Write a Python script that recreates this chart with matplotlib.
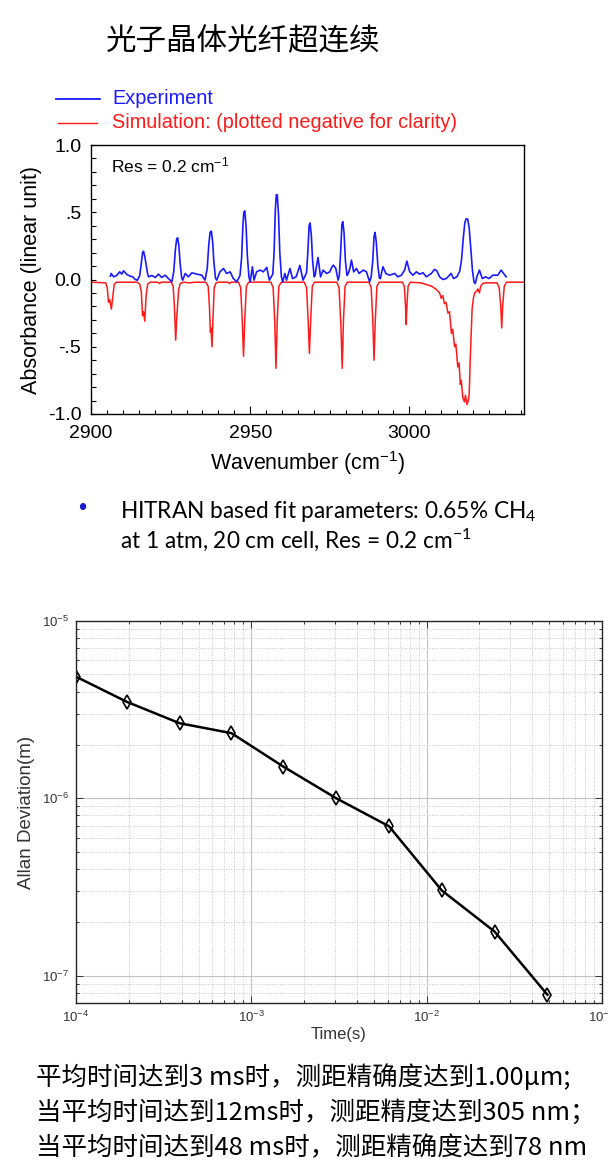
"""Methane absorption spectrum (PCF supercontinuum) and Allan deviation of ranging."""
import numpy as np
import matplotlib
matplotlib.use("Agg")
import matplotlib.pyplot as plt
from matplotlib.lines import Line2D
from matplotlib.ticker import MultipleLocator, LogLocator, NullFormatter

W, H = 609, 1172

exp_wn = [2906.1, 2906.3, 2907.1, 2908.1, 2909.0, 2909.7, 2910.2, 2911.3, 2912.3, 2913.1,
          2913.9, 2914.6, 2915.3, 2915.8, 2916.2, 2916.5, 2916.9, 2917.3, 2917.8, 2918.1,
          2919.1, 2920.2, 2921.2, 2922.2, 2923.3, 2924.3, 2925.4, 2926.0, 2926.5, 2926.9,
          2927.2, 2927.6, 2928.0, 2928.5, 2928.8, 2929.6, 2930.6, 2931.7, 2933.2, 2934.8,
          2935.8, 2936.5, 2937.0, 2937.4, 2937.8, 2938.2, 2938.6, 2939.1, 2939.5, 2940.5,
          2941.6, 2942.6, 2943.7, 2944.7, 2945.8, 2946.8, 2947.3, 2947.7, 2948.0, 2948.3,
          2948.7, 2949.1, 2949.6, 2950.0, 2950.7, 2951.2, 2952.0, 2953.1, 2954.1, 2955.2,
          2956.0, 2957.1, 2957.5, 2957.9, 2958.2, 2958.5, 2958.9, 2959.3, 2959.8, 2960.2,
          2960.9, 2961.4, 2962.5, 2963.3, 2964.4, 2965.0, 2965.6, 2966.1, 2966.6, 2967.3,
          2967.7, 2968.1, 2968.5, 2968.8, 2969.2, 2969.6, 2970.1, 2970.4, 2970.8, 2971.3,
          2971.7, 2972.1, 2972.9, 2974.0, 2975.0, 2975.6, 2976.1, 2976.9, 2977.6, 2978.0,
          2978.4, 2978.8, 2979.1, 2979.5, 2979.9, 2980.4, 2980.8, 2981.3, 2981.8, 2982.5,
          2983.4, 2984.2, 2985.5, 2986.5, 2987.5, 2988.0, 2988.5, 2988.9, 2989.2, 2989.6,
          2990.1, 2990.6, 2990.9, 2991.7, 2992.6, 2993.8, 2995.4, 2996.4, 2997.5, 2998.5,
          2999.2, 3000.1, 3001.1, 3002.2, 3003.2, 3004.3, 3005.3, 3006.9, 3007.9, 3008.6,
          3009.5, 3010.5, 3011.6, 3013.1, 3013.9, 3014.9, 3015.8, 3016.4, 3016.9, 3017.4,
          3017.8, 3018.3, 3018.8, 3019.3, 3019.8, 3020.3, 3020.7, 3021.2, 3022.0, 3022.9,
          3023.9, 3025.0, 3026.2, 3027.8, 3028.8, 3029.6, 3030.4]
exp_abs = [0.025, 0.045, 0.020, 0.030, 0.057, 0.040, 0.065, 0.037, 0.025, 0.020,
           0.000, -0.005, 0.030, 0.120, 0.200, 0.210, 0.170, 0.110, 0.040, 0.020,
           0.030, 0.015, 0.040, 0.015, 0.032, 0.007, -0.017, 0.060, 0.220, 0.300,
           0.310, 0.250, 0.120, 0.010, -0.005, 0.045, 0.020, 0.050, 0.040, 0.032,
           -0.005, 0.080, 0.260, 0.350, 0.360, 0.280, 0.130, 0.010, -0.005, 0.057,
           0.082, 0.045, 0.057, 0.007, -0.017, 0.030, 0.160, 0.400, 0.500, 0.510,
           0.400, 0.180, 0.020, -0.017, 0.095, -0.005, 0.057, 0.070, 0.057, 0.090,
           -0.005, 0.040, 0.200, 0.520, 0.630, 0.630, 0.480, 0.200, 0.020, -0.017,
           0.045, -0.005, 0.082, 0.007, 0.020, 0.060, 0.105, 0.050, -0.005, 0.030,
           0.050, 0.200, 0.400, 0.420, 0.330, 0.140, 0.020, 0.030, 0.095, 0.164,
           0.090, 0.020, 0.070, 0.045, 0.057, 0.090, 0.107, 0.082, -0.005, 0.030,
           0.200, 0.410, 0.430, 0.340, 0.140, 0.030, 0.045, 0.082, 0.144, 0.057,
           0.082, 0.045, 0.070, 0.057, -0.017, 0.020, 0.140, 0.320, 0.350, 0.280,
           0.100, 0.010, 0.007, 0.095, 0.045, 0.032, 0.045, 0.020, 0.032, 0.070,
           0.137, 0.057, 0.032, 0.057, 0.040, 0.050, 0.020, 0.045, 0.075, 0.065,
           0.020, 0.000, 0.007, 0.045, 0.007, 0.020, 0.060, 0.150, 0.300, 0.420,
           0.450, 0.450, 0.380, 0.220, 0.070, -0.020, -0.030, 0.020, 0.070, 0.007,
           0.020, 0.007, 0.032, 0.032, 0.070, 0.045, 0.020]

# simulated spectrum, plotted negative
sim_wn = [2900.0, 2904.6, 2905.1, 2905.5, 2905.9, 2906.4, 2906.9, 2907.3, 2908.0,
          2914.5, 2915.3, 2915.8, 2916.2, 2916.5, 2916.9, 2917.3, 2917.8, 2918.5,
          2921.0, 2921.5, 2922.0,
          2925.2, 2925.8, 2926.2, 2926.6, 2926.9, 2927.2, 2927.5, 2928.0, 2929.0,
          2931.0, 2932.5,
          2936.0, 2936.8, 2937.2, 2937.5, 2937.7, 2938.0, 2938.3, 2938.7, 2939.3, 2940.0,
          2943.0, 2943.5, 2944.0,
          2946.3, 2947.0, 2947.5, 2947.9, 2948.3, 2948.8, 2949.5,
          2956.5, 2957.2, 2957.7, 2958.1, 2958.5, 2959.0, 2959.8,
          2967.0, 2967.7, 2968.2, 2968.6, 2969.0, 2969.5, 2970.2,
          2977.2, 2977.9, 2978.5, 2978.9, 2979.3, 2979.8, 2980.5,
          2987.3, 2988.0, 2988.5, 2988.9, 2989.3, 2989.8, 2990.5,
          2997.8, 2998.4, 2998.8, 2999.0, 2999.2, 2999.6, 3000.3,
          3003.5, 3005.3, 3007.0, 3008.5, 3009.5, 3010.0, 3010.5, 3011.0, 3011.5,
          3012.1, 3012.6, 3013.2, 3013.6, 3014.2, 3014.6, 3015.2, 3015.6, 3016.0,
          3016.3, 3016.8, 3017.3, 3017.6, 3018.1, 3018.5, 3018.8, 3019.1, 3019.4,
          3019.7, 3020.1, 3020.5, 3021.0, 3021.5, 3022.0, 3022.4, 3023.0, 3024.0,
          3027.5, 3028.2, 3028.7, 3029.0, 3029.3, 3029.8, 3030.5, 3036.0]
sim_abs = [-0.02, -0.025, -0.06, -0.17, -0.15, -0.22, -0.12, -0.035, -0.02,
           -0.02, -0.035, -0.09, -0.27, -0.24, -0.31, -0.12, -0.035, -0.02,
           -0.02, -0.03, -0.02,
           -0.02, -0.05, -0.20, -0.45, -0.30, -0.19, -0.08, -0.03, -0.02,
           -0.025, -0.02,
           -0.02, -0.05, -0.20, -0.39, -0.36, -0.50, -0.30, -0.06, -0.025, -0.02,
           -0.02, -0.03, -0.02,
           -0.02, -0.06, -0.30, -0.57, -0.30, -0.05, -0.02,
           -0.02, -0.06, -0.30, -0.66, -0.30, -0.05, -0.02,
           -0.02, -0.06, -0.30, -0.55, -0.30, -0.05, -0.02,
           -0.02, -0.06, -0.35, -0.66, -0.30, -0.05, -0.02,
           -0.02, -0.06, -0.30, -0.60, -0.30, -0.05, -0.02,
           -0.02, -0.05, -0.20, -0.335, -0.20, -0.05, -0.02,
           -0.025, -0.037, -0.05, -0.075, -0.10, -0.14, -0.12, -0.18, -0.17,
           -0.25, -0.24, -0.40, -0.37, -0.50, -0.48, -0.65, -0.62, -0.78,
           -0.75, -0.88, -0.91, -0.86, -0.93, -0.90, -0.85, -0.60, -0.40,
           -0.22, -0.14, -0.10, -0.09, -0.07, -0.10, -0.05, -0.03, -0.025,
           -0.025, -0.06, -0.20, -0.36, -0.20, -0.05, -0.02, -0.02]

abs_ticks = [-1.0, -0.5, 0.0, 0.5, 1.0]
abs_tick_labels = ["-1.0", "-.5", "0.0", ".5", "1.0"]
wn_ticks = [2900, 2950, 3000]

# --- bottom panel: Allan deviation ---
tau_s = [1.0e-4, 1.95e-4, 3.9e-4, 7.7e-4, 1.52e-3, 3.05e-3, 6.1e-3, 1.22e-2, 2.44e-2, 4.88e-2]
allan_m = [4.85e-6, 3.5e-6, 2.65e-6, 2.33e-6, 1.51e-6, 1.0e-6, 6.95e-7, 3.02e-7, 1.77e-7, 7.8e-8]

title = "光子晶体光纤超连续"
legend_labels = ["Experiment", "Simulation: (plotted negative for clarity)"]
bullet_lines = ["HITRAN based fit parameters: 0.65% CH$_4$",
                "at 1 atm, 20 cm cell, Res = 0.2 cm$^{-1}$"]
note_lines = ["平均时间达到3 ms时，测距精确度达到1.00μm;",
              "当平均时间达到12ms时，测距精度达到305 nm；",
              "当平均时间达到48 ms时，测距精确度达到78 nm"]

SANS = ["Liberation Sans", "DejaVu Sans"]
CJK = ["Noto Sans CJK SC", "DejaVu Sans"]


def fx(px):
    return px / W


def fy(py):
    return 1 - py / H


def main():
    plt.rcParams["mathtext.default"] = "regular"
    fig = plt.figure(figsize=(W / 100, H / 100), dpi=100)

    fig.text(fx(243), fy(42), title, family=CJK, fontsize=22, ha="center", va="center")

    # legend drawn by hand above the axes
    fig.add_artist(Line2D([fx(56), fx(100)], [fy(99), fy(99)], color="#1a1aff", lw=1.3))
    fig.add_artist(Line2D([fx(58), fx(97)], [fy(123), fy(123)], color="#ff1a1a", lw=1.0))
    fig.text(fx(112), fy(99), legend_labels[0], family=SANS, fontsize=14.3,
             color="#1a1aff", va="center")
    fig.text(fx(112), fy(123), legend_labels[1], family=SANS, fontsize=14.3,
             color="#ff1a1a", va="center")

    ax1 = fig.add_axes([fx(91), fy(414), (524 - 91) / W, (414 - 145) / H])
    ax1.plot(sim_wn, sim_abs, color="#ff1a1a", lw=1.1)
    ax1.plot(exp_wn, exp_abs, color="#1a1aff", lw=1.2)
    ax1.set_xlim(2900, 3036)
    ax1.set_ylim(-1, 1)
    ax1.set_yticks(abs_ticks)
    ax1.set_yticklabels(abs_tick_labels)
    ax1.yaxis.set_minor_locator(MultipleLocator(0.1))
    ax1.set_xticks(wn_ticks)
    ax1.xaxis.set_minor_locator(MultipleLocator(5))
    ax1.tick_params(which="both", direction="in", top=False, right=False)
    ax1.tick_params(axis="y", which="both", length=3.5, width=0.8, pad=7)
    ax1.tick_params(axis="x", which="major", length=6, width=0.8, pad=8)
    ax1.tick_params(axis="x", which="minor", length=3, width=0.8)
    for lab in ax1.get_xticklabels() + ax1.get_yticklabels():
        lab.set_family(SANS)
        lab.set_fontsize(14)
    for sp in ax1.spines.values():
        sp.set_linewidth(1.0)
    ax1.set_xlabel("Wavenumber (cm$^{-1}$)", family=SANS, fontsize=15.5, labelpad=5)
    ax1.set_ylabel("Absorbance (linear unit)", family=SANS, fontsize=15.5, labelpad=4)
    ax1.text(0.047, 0.925, "Res = 0.2 cm$^{-1}$", transform=ax1.transAxes,
             family=SANS, fontsize=12.5, va="center")

    # bullet note
    fig.text(fx(82), fy(509), "•", family=SANS, fontsize=17, color="#1a1ad0",
             ha="center", va="center")
    fig.text(fx(120), fy(518), bullet_lines[0], family=["Lato", "DejaVu Sans"],
             fontsize=16.3, va="baseline")
    fig.text(fx(120), fy(548), bullet_lines[1], family=["Lato", "DejaVu Sans"],
             fontsize=16.3, va="baseline")

    # Allan deviation panel
    ax2 = fig.add_axes([fx(76), fy(1003), (602 - 76) / W, (1003 - 621) / H])
    ax2.loglog(tau_s, allan_m, color="black", lw=1.8, marker="d", ms=7,
               mfc="none", mec="black", mew=1.2)
    ax2.set_xlim(1e-4, 1e-1)
    ax2.set_ylim(7e-8, 1e-5)
    ax2.xaxis.set_minor_locator(LogLocator(base=10, subs=np.arange(2, 10), numticks=20))
    ax2.yaxis.set_minor_locator(LogLocator(base=10, subs=np.arange(2, 10), numticks=20))
    ax2.xaxis.set_minor_formatter(NullFormatter())
    ax2.yaxis.set_minor_formatter(NullFormatter())
    ax2.grid(True, which="major", color="#c4c4c4", lw=0.8, ls="-")
    ax2.grid(True, which="minor", color="#c4c4c4", lw=0.7, ls=":")
    ax2.tick_params(which="both", direction="in", top=True, right=True,
                    colors="#333333", width=0.7)
    ax2.tick_params(which="major", length=5, labelsize=9.5, pad=5)
    ax2.tick_params(which="minor", length=2.5)
    for lab in ax2.get_xticklabels() + ax2.get_yticklabels():
        lab.set_family(SANS)
    for sp in ax2.spines.values():
        sp.set_color("#262626")
        sp.set_linewidth(1.0)
    ax2.set_xlabel("Time(s)", family=SANS, fontsize=12, color="#333333", labelpad=1)
    ax2.set_ylabel("Allan Deviation(m)", family=SANS, fontsize=13.5, color="#333333",
                   labelpad=5)

    for i, line in enumerate(note_lines):
        fig.text(fx(36), fy(1078 + 35 * i), line, family=CJK, fontsize=18.4, va="center")

    fig.savefig("out.png", dpi=100)


if __name__ == "__main__":
    main()
